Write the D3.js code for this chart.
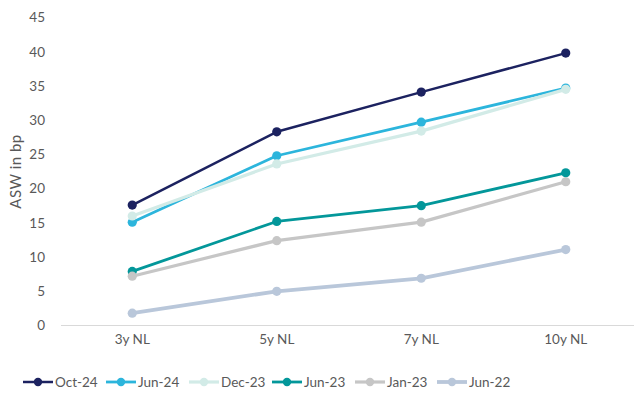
<!DOCTYPE html>
<html>
<head>
<meta charset="utf-8">
<script src="https://cdn.jsdelivr.net/npm/d3@7"></script>
<style>
  html, body { margin: 0; padding: 0; background: #fff; }
  text { font-family: Lato, "Open Sans", sans-serif; }
</style>
</head>
<body>
<svg id="chart" width="634" height="394"></svg>
<script>
// Tenors along the x axis
const categories = ["3y NL", "5y NL", "7y NL", "10y NL"];

// Asset-swap spread (bp) per tenor, one array per observation date
const oct24 = [17.6, 28.3, 34.1, 39.8];
const jun24 = [15.1, 24.8, 29.7, 34.7];
const dec23 = [16.0, 23.6, 28.4, 34.5];
const jun23 = [7.9, 15.2, 17.5, 22.3];
const jan23 = [7.2, 12.4, 15.1, 21.0];
const jun22 = [1.8, 5.0, 6.9, 11.1];

const seriesNames = ["Oct-24", "Jun-24", "Dec-23", "Jun-23", "Jan-23", "Jun-22"];
const seriesValues = [oct24, jun24, dec23, jun23, jan23, jun22];
const yTicks = [0, 5, 10, 15, 20, 25, 30, 35, 40, 45];

const colors = ["#1c2260", "#2cb5dc", "#d2ebe7", "#03979a", "#c6c6c6", "#b9c7da"];
const widths = [2.5, 2.8, 3.2, 2.8, 3.2, 3.8];

const svg = d3.select("#chart");

const x = d3.scaleBand().domain(categories).range([60, 638]);
const y = d3.scaleLinear().domain([0, 45]).range([325.5, 17.5]);

// Y tick labels (no axis line)
const yAxis = d3.axisLeft(y).tickValues(yTicks).tickSize(0).tickPadding(0);
const gy = svg.append("g").attr("transform", "translate(45,0)").call(yAxis);
gy.select(".domain").remove();
gy.selectAll("text")
  .attr("fill", "#595959")
  .style("font-size", "13.5px")
  .style("font-family", "Lato, 'Open Sans', sans-serif");

// Baseline
svg.append("line")
  .attr("x1", 61).attr("x2", 634)
  .attr("y1", y(0)).attr("y2", y(0))
  .attr("stroke", "#d9d9d9").attr("stroke-width", 1.2);

// X tick labels
const xAxis = d3.axisBottom(x).tickSize(0).tickPadding(0);
const gx = svg.append("g").attr("transform", "translate(0,340)").call(xAxis);
gx.select(".domain").remove();
gx.selectAll("text")
  .attr("fill", "#595959")
  .attr("dy", "0.32em")
  .style("font-size", "13.5px")
  .style("font-family", "Lato, 'Open Sans', sans-serif");

// Y axis title
svg.append("text")
  .attr("transform", "translate(16," + y(22.5) + ") rotate(-90)")
  .attr("text-anchor", "middle")
  .attr("dy", "0.35em")
  .attr("fill", "#595959")
  .style("font-size", "15px")
  .style("letter-spacing", "0.5px")
  .text("ASW in bp");

const line = d3.line()
  .x((d, i) => x(categories[i]) + x.bandwidth() / 2)
  .y(d => y(d));

// Series lines and markers, drawn in legend order
seriesValues.forEach((vals, s) => {
  const g = svg.append("g");
  g.append("path")
    .datum(vals)
    .attr("d", line)
    .attr("fill", "none")
    .attr("stroke", colors[s])
    .attr("stroke-width", widths[s])
    .attr("stroke-linejoin", "round");
  g.selectAll("circle")
    .data(vals)
    .join("circle")
    .attr("cx", (d, i) => x(categories[i]) + x.bandwidth() / 2)
    .attr("cy", d => y(d))
    .attr("r", 4.6)
    .attr("fill", colors[s]);
});

// Legend
const legendX = [23, 106, 189, 272, 355, 437];
const legend = svg.append("g").attr("transform", "translate(0,382)");
seriesNames.forEach((name, s) => {
  const g = legend.append("g").attr("transform", "translate(" + legendX[s] + ",0)");
  g.append("line")
    .attr("x1", 0).attr("x2", 30)
    .attr("stroke", colors[s]).attr("stroke-width", widths[s]);
  g.append("circle").attr("cx", 15).attr("r", 4.2).attr("fill", colors[s]);
  g.append("text")
    .attr("x", 32).attr("dy", "0.35em")
    .attr("fill", "#595959")
    .style("font-size", "13.5px")
    .text(name);
});
</script>
</body>
</html>
